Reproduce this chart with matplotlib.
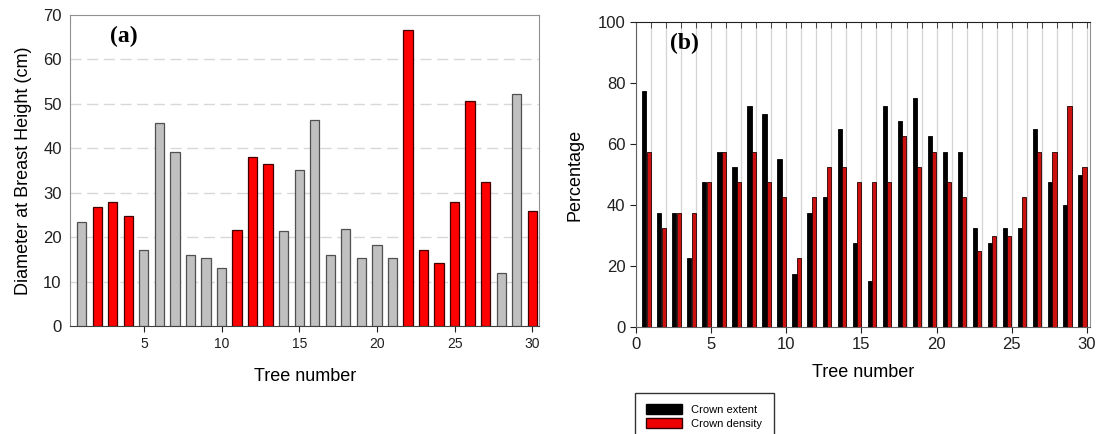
import matplotlib
matplotlib.use('Agg')
import matplotlib.pyplot as plt
import numpy as np
from matplotlib.patches import Patch

plt.rcParams['font.family'] = ['Liberation Sans', 'DejaVu Sans']

trees = np.arange(1, 31)

# diameter at breast height (cm), red = highlighted trees
dbh = [23.3, 26.7, 27.9, 24.8, 17.1, 45.7, 39.2, 16.0, 15.2, 13.0,
       21.7, 38.0, 36.4, 21.3, 35.0, 46.4, 16.0, 21.9, 15.4, 18.2,
       15.4, 66.5, 17.1, 14.1, 27.9, 50.6, 32.4, 11.9, 52.3, 25.9]
highlight = [0, 1, 1, 1, 0, 0, 0, 0, 0, 0,
             1, 1, 1, 0, 0, 0, 0, 0, 0, 0,
             0, 1, 1, 1, 1, 1, 1, 0, 0, 1]

# crown condition (%)
crown_extent = [77.5, 37.5, 37.5, 22.5, 47.5, 57.5, 52.5, 72.5, 70.0, 55.0,
                17.5, 37.5, 42.5, 65.0, 27.5, 15.0, 72.5, 67.5, 75.0, 62.5,
                57.5, 57.5, 32.5, 27.5, 32.5, 32.5, 65.0, 47.5, 40.0, 50.0]
crown_density = [57.5, 32.5, 37.5, 37.5, 47.5, 57.5, 47.5, 57.5, 47.5, 42.5,
                 22.5, 42.5, 52.5, 52.5, 47.5, 47.5, 47.5, 62.5, 52.5, 57.5,
                 47.5, 42.5, 25.0, 30.0, 30.0, 42.5, 57.5, 57.5, 72.5, 52.5]

fig = plt.figure(figsize=(10.99, 4.34), dpi=100)

# ---- (a) DBH ----
ax1 = fig.add_axes([0.0637, 0.249, 0.427, 0.7166])
colors = ['#FF0000' if h else '#C0C0C0' for h in highlight]
edges = ['#400000' if h else '#505050' for h in highlight]
ax1.bar(trees, dbh, width=0.6, color=colors, edgecolor=edges, linewidth=0.9, zorder=3)
ax1.set_xlim(0.25, 30.45)
ax1.set_ylim(0, 70)
ax1.set_yticks(range(0, 71, 10))
ax1.set_xticks(range(5, 31, 5))
for y in range(10, 70, 10):
    ax1.axhline(y, color='#D8D8D8', lw=1, ls=(0, (8, 4)), zorder=1)
for s in ['top', 'right', 'left']:
    ax1.spines[s].set_color('#909090')
ax1.spines['bottom'].set_color('#404040')
ax1.tick_params(axis='y', length=0, labelsize=12, pad=6, colors='#202020')
ax1.tick_params(axis='x', length=4, labelsize=10, colors='#202020', pad=4)
ax1.set_xlabel('Tree number', fontsize=13, labelpad=12)
ax1.set_ylabel('Diameter at Breast Height (cm)', fontsize=13, labelpad=8)
ax1.text(0.085, 0.93, '(a)', transform=ax1.transAxes, fontsize=17, fontweight='bold',
         family='Liberation Serif', va='center')

# ---- (b) crown extent / density ----
ax2 = fig.add_axes([0.5787, 0.2465, 0.413, 0.7025])
ax2.bar(trees - 0.45, crown_extent, width=0.28, color='#000000', edgecolor='#000000',
        linewidth=0.6, zorder=3)
ax2.bar(trees - 0.16, crown_density, width=0.28, color='#CC1111', edgecolor='#200000',
        linewidth=0.6, zorder=3)
ax2.set_xlim(0, 30.2)
ax2.set_ylim(0, 100)
ax2.set_yticks(range(0, 101, 20))
ax2.set_xticks(range(0, 31, 5))
ax2.set_xticks(range(0, 31), minor=True)
ax2.xaxis.remove_overlapping_locs = False
ax2.grid(axis='x', which='minor', color='#D4D4D4', lw=0.9, zorder=0)
ax2.tick_params(axis='x', which='minor', top=True, bottom=False, direction='in',
                length=4, color='#303030')
ax2.tick_params(axis='x', which='major', top=False, direction='out', length=4,
                labelsize=12, colors='#202020')
ax2.tick_params(axis='y', length=4, labelsize=12, colors='#202020')
for s in ['left', 'bottom']:
    ax2.spines[s].set_color('#606060')
ax2.spines['top'].set_color('#202020')
ax2.spines['right'].set_color('#909090')
ax2.set_xlabel('Tree number', fontsize=13, labelpad=8)
ax2.set_ylabel('Percentage', fontsize=13, labelpad=10)
ax2.text(0.075, 0.93, '(b)', transform=ax2.transAxes, fontsize=17, fontweight='bold',
         family='Liberation Serif', va='center')

handles = [Patch(facecolor='#000000', edgecolor='#000000'),
           Patch(facecolor='#EE0000', edgecolor='#300000')]
fig.legend(handles, ['Crown extent', 'Crown density'], loc='upper left',
           bbox_to_anchor=(0.5725, 0.108), fontsize=8, frameon=True, fancybox=False,
           edgecolor='#000000', handlelength=3.2, handleheight=1.0, labelspacing=0.3,
           borderpad=1.05, handletextpad=0.8)

fig.savefig('out.png', dpi=100)
